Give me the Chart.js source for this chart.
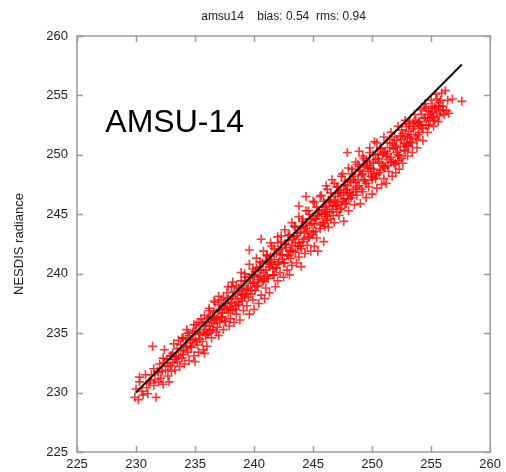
<!DOCTYPE html>
<html>
<head>
<meta charset="utf-8">
<script src="https://cdn.jsdelivr.net/npm/chart.js@4"></script>
<style>
  body { margin: 0; background: #fff; }
  canvas { display: block; }
</style>
</head>
<body>
<canvas id="grafica" width="506" height="472"></canvas>
<script>
// amsu14 vs NESDIS radiance
const titleText = 'amsu14    bias: 0.54  rms: 0.94';
const panelLabel = 'AMSU-14';
const yAxisLabel = 'NESDIS radiance';
const tickValues = [225, 230, 235, 240, 245, 250, 255, 260];
const fitX = [230.0, 257.6];
const fitY = [230.0, 257.6];
// outer part of the cloud
const scatterPoints = [
  [229.9,229.6],[230.0,230.3],[230.2,229.4],[230.3,230.9],[230.3,231.3],[230.5,230.1],[230.6,229.8],[230.8,231.5],[230.9,230.4],[231.0,229.9],
  [231.2,231.0],[231.4,233.9],[231.5,230.6],[231.7,229.6],[231.8,231.8],[231.9,230.9],[232.0,232.4],[232.1,231.2],[232.3,230.7],[232.4,233.6],
  [232.5,231.9],[232.6,232.8],[232.7,231.4],[232.8,230.9],[232.9,232.3],[233.0,233.1],[233.0,231.8],
  [233.1,232.5],[233.2,234.1],[233.3,231.9],[233.4,233.0],[233.5,232.6],[233.6,234.4],[233.7,232.2],[233.8,233.5],[233.9,232.9],[234.0,234.6],
  [234.0,233.2],[234.1,232.4],[234.2,233.9],[234.3,235.3],[234.4,233.4],[234.5,232.7],[234.6,234.2],[234.7,233.8],[234.8,235.1],[234.9,233.1],
  [235.0,234.5],[235.0,232.6],[235.1,235.7],[235.2,234.0],[235.3,233.4],[235.4,234.9],[235.5,236.2],[235.6,234.3],[235.7,233.6],[235.8,233.3],
  [235.8,235.3],[235.9,234.8],[236.0,236.0],[236.0,233.9],[236.1,235.0],[236.2,236.9],
  [236.3,235.2],[236.4,234.6],[236.5,236.4],[236.6,235.8],[236.7,237.6],[236.8,235.1],[236.9,236.3],[237.0,234.8],[237.0,236.9],[237.1,235.9],
  [237.2,237.8],[237.3,236.4],[237.4,235.3],[237.5,237.1],[237.6,236.0],[237.7,238.4],[237.8,236.7],[237.9,235.6],[238.0,237.5],[238.0,236.2],
  [238.1,238.9],[238.2,237.0],[238.3,235.9],[238.4,237.9],[238.5,236.6],[238.6,238.3],[238.7,237.4],[238.8,236.1],[238.9,239.4],[239.0,237.7],
  [239.0,238.6],[239.1,236.9],[239.2,238.1],[239.3,239.7],[239.4,237.3],[239.5,238.8],[239.6,242.0],[239.6,236.6],[239.7,238.3],[239.8,239.9],
  [239.9,237.8],[240.0,239.2],[240.0,237.0],[240.1,238.6],[240.2,240.5],[240.3,239.0],[240.4,237.5],[240.5,239.8],[240.6,242.9],[240.6,238.2],
  [240.7,240.9],[240.8,239.4],[240.9,237.9],[241.0,240.3],[241.0,238.8],
  [241.1,241.6],[241.2,239.6],[241.3,238.4],[241.4,240.8],[241.5,242.3],[241.6,239.9],[241.7,241.2],[241.8,238.9],[241.9,240.5],[242.0,242.6],
  [242.0,239.4],[242.1,241.0],[242.2,240.1],[242.3,243.2],[242.4,241.6],[242.5,239.7],[242.6,240.9],[242.7,242.2],[242.8,240.3],[242.9,241.5],
  [243.0,239.9],[243.0,243.3],[243.1,242.0],[243.2,240.7],[243.3,241.9],[243.4,244.0],[243.5,242.6],[243.6,240.9],[243.7,242.3],[243.8,241.4],
  [243.8,245.7],[243.9,243.5],[244.0,242.1],[244.0,240.6],[244.1,244.6],[244.2,242.9],[244.3,241.7],[244.4,243.8],[244.4,246.5],[244.5,242.4],
  [244.6,245.3],[244.7,243.1],[244.8,241.9],[244.9,244.2],[245.0,243.5],[245.1,242.3],[245.1,246.0],[245.2,244.6],[245.3,243.0],[245.4,241.9],
  [245.5,245.1],[245.6,243.8],[245.7,246.6],[245.8,244.3],[245.9,242.7],[246.0,245.6],[246.0,244.0],
  [246.1,244.8],[246.1,247.4],[246.2,245.2],[246.3,243.9],[246.4,246.0],[246.5,244.6],[246.6,247.9],[246.7,245.7],[246.8,244.3],[246.9,246.5],
  [247.0,245.2],[247.0,247.3],[247.1,246.0],[247.2,244.9],[247.3,246.8],[247.4,245.5],[247.5,248.4],[247.6,244.4],[247.6,246.3],[247.7,247.5],
  [247.8,245.9],[247.9,250.2],[247.9,246.8],[248.0,245.3],[248.1,247.9],[248.2,246.4],[248.3,248.8],[248.4,247.1],[248.5,245.8],[248.6,247.7],
  [248.7,246.6],[248.8,249.2],[248.9,250.3],[248.9,247.4],[249.0,245.9],[249.1,248.3],[249.2,246.9],[249.3,249.7],[249.4,247.8],[249.5,246.4],
  [249.6,248.9],[249.7,247.3],[249.8,250.2],[249.9,248.2],[250.0,247.9],[250.0,246.7],[250.1,249.3],[250.2,251.1],[250.3,248.0],[250.4,247.2],
  [250.5,249.7],[250.6,248.5],[250.7,250.6],[250.8,247.5],[250.9,249.1],[251.0,248.0],[251.0,250.2],
  [251.1,249.0],[251.2,247.6],[251.3,250.1],[251.4,248.6],[251.5,251.3],[251.6,249.4],[251.7,248.2],[251.8,250.5],[251.9,249.2],[252.0,248.5],
  [252.0,249.3],[252.1,251.2],[252.2,250.0],[252.3,248.8],[252.4,251.6],[252.5,249.7],[252.6,249.3],[252.7,251.0],[252.8,250.3],[252.9,252.4],
  [253.0,249.9],[253.0,251.5],[253.1,250.7],[253.2,252.8],[253.3,251.1],[253.4,250.2],[253.5,252.2],[253.6,253.4],[253.7,251.5],[253.8,250.6],
  [253.9,252.7],[254.0,251.9],[254.1,253.8],[254.2,252.3],[254.3,251.2],[254.4,253.1],[254.5,254.3],[254.6,252.5],[254.7,251.9],[254.8,253.7],
  [254.9,252.9],[255.0,254.6],[255.1,253.2],[255.2,252.4],[255.3,254.0],[255.4,255.1],[255.5,253.5],[255.6,252.8],[255.7,254.4],[255.8,253.7],
  [255.9,255.2],[256.0,254.1],[256.1,253.4],[256.2,255.4],[256.3,253.7],[256.4,254.6],[256.5,253.5],[256.8,254.7],[257.6,254.5]
];
// dense core of the cloud, close to the line
const densePoints = [
  [231.1,230.8],[231.3,231.5],[231.6,231.1],[231.9,231.7],[232.2,231.8],[232.4,232.5],[232.7,232.2],[232.9,233.1],[233.1,233.3],[233.3,232.8],
  [233.5,233.7],[233.6,233.1],[233.8,234.0],[234.0,233.6],[234.2,234.5],[234.3,233.8],[234.5,234.8],[234.6,233.9],[234.8,234.4],[235.0,235.2],
  [235.1,234.3],[235.3,235.0],[235.4,234.5],[235.6,235.9],[235.7,235.1],[235.9,235.6],[236.0,234.9],[236.2,235.6],[236.3,236.4],[236.5,235.3],
  [236.6,236.8],[236.8,236.2],[236.9,235.5],[237.1,237.0],[237.2,236.3],[237.4,237.3],[237.5,236.0],[237.7,237.0],[237.8,237.9],[238.0,236.9],
  [238.1,237.6],[238.3,238.5],[238.4,237.0],[238.6,237.6],[238.7,238.8],[238.9,237.9],[239.0,238.2],[239.2,239.4],[239.3,238.3],[239.5,238.0],
  [239.6,239.7],[239.8,238.6],[239.9,239.3],[240.1,240.2],[240.2,238.9],[240.4,239.5],[240.5,240.6],[240.7,239.3],[240.8,240.1],[241.0,241.1],
  [241.1,239.8],[241.3,240.6],[241.4,241.5],[241.6,240.4],[241.7,239.9],[241.9,241.7],[242.0,240.8],[242.2,241.6],[242.3,242.1],[242.5,240.9],
  [242.6,242.5],[242.8,241.6],[242.9,242.8],[243.1,241.3],[243.2,242.4],[243.4,243.1],[243.5,241.8],[243.7,243.4],[243.8,242.6],[244.0,243.9],
  [244.1,242.7],[244.3,243.4],[244.4,244.3],[244.6,243.0],[244.7,244.1],[244.9,243.3],[245.0,244.8],[245.2,243.6],[245.3,244.6],[245.5,245.3],
  [245.6,244.1],[245.8,245.4],[245.9,244.3],[246.1,245.7],[246.2,244.5],[246.4,245.2],[246.5,246.1],[246.7,244.9],[246.8,246.2],[247.0,245.8],
  [247.1,246.8],[247.3,245.4],[247.4,246.6],[247.6,247.1],[247.7,245.9],[247.9,247.4],[248.0,246.3],[248.2,247.7],[248.3,246.6],[248.5,248.2],
  [248.6,246.9],[248.8,247.9],[248.9,248.6],[249.1,247.1],[249.2,248.4],[249.4,249.0],[249.5,247.6],[249.7,248.6],[249.8,249.4],[250.0,248.1],
  [250.1,248.8],[250.3,249.6],[250.4,248.3],[250.6,249.4],[250.7,248.7],[250.9,250.0],[251.0,248.9],[251.2,249.9],[251.3,249.1],[251.5,250.6],
  [251.6,249.8],[251.8,249.4],[251.9,250.8],[252.1,250.2],[252.2,249.5],[252.4,250.7],[252.5,251.3],[252.7,250.4],[252.8,251.6],[253.0,250.8],
  [253.1,252.0],[253.3,251.7],[253.4,251.0],[253.6,252.4],[253.7,252.9],[253.9,251.7],[254.0,252.8],[254.2,253.4],[254.3,252.2],[254.5,253.1],
  [254.6,253.9],[254.8,252.5],[254.9,253.4],[255.1,254.1],[255.2,253.1],[255.4,253.9],[255.5,254.7],[255.7,253.3],[255.8,254.6],[256.0,253.8],
  [236.1,236.3],[236.4,235.9],[236.7,236.1],[237.0,237.4],[237.3,236.7],[237.6,237.5],[237.9,237.2],[238.2,238.1],[238.5,237.3],[238.8,238.5],
  [239.1,239.0],[239.4,238.7],[239.7,239.2],[240.0,239.9],[240.3,239.7],[240.6,240.3],[240.9,239.6],[241.2,240.9],[241.5,241.0],[241.8,240.5],
  [242.1,242.0],[242.4,241.2],[242.7,242.5],[243.0,241.9],[243.3,242.9],[243.6,243.2],[243.9,242.3],[244.2,244.0],[244.5,243.6],[244.8,244.6],
  [245.1,244.2],[245.4,244.9],[245.7,245.0],[246.0,245.0],[246.3,246.2],[246.6,245.4],[246.9,245.7],[247.2,247.0],[247.5,246.1],[247.8,247.0],
  [248.1,246.8],[248.4,247.9],[248.7,247.3],[249.0,248.7],[249.3,247.9],[249.6,249.1],[249.9,248.9],[250.2,248.4],[250.5,250.1],[250.8,249.3],
  [251.1,250.3],[251.4,249.6],[251.7,251.0],[252.0,250.6],[252.3,249.9],[252.6,251.8],[252.9,250.9],[253.2,251.4],[253.5,252.7],[253.8,251.3],
  [254.1,252.5],[254.4,254.0],[254.7,253.1],[255.0,253.6],[255.3,252.9],[255.6,254.1]
];
// points sitting just above the line
const upperPoints = [
  [231.5,232.0],[232.3,232.9],[233.9,234.6],[234.4,235.0],[234.9,235.7],[235.3,235.9],[235.8,236.5],
  [236.2,237.1],[236.6,237.7],[237.0,238.1],[237.4,238.0],[237.8,238.9],[238.2,239.3],[238.5,239.0],[238.9,240.1],[239.2,240.0],[239.6,240.8],
  [239.9,240.4],[240.2,241.3],[240.5,241.0],[240.8,241.9],[241.1,241.5],[241.4,242.6],[241.7,242.1],[242.0,243.1],[242.3,242.7],[242.6,243.7],
  [242.9,243.2],[243.2,244.3],[243.5,243.9],[243.8,244.8],[244.1,244.4],[244.4,245.3],[244.7,245.0],[245.0,246.1],[245.3,245.6],[245.6,246.5],
  [245.9,246.1],[246.2,247.1],[246.5,246.8],[246.8,247.6],[247.1,247.3],[247.4,248.2],[247.7,247.8],[248.0,248.9],[248.3,248.4],[248.6,249.4],
  [248.9,249.0],[249.2,249.9],[249.5,249.5],[249.8,250.6],[250.1,250.0],[250.4,251.0],[250.7,250.5],[251.0,251.5],[251.3,251.0],[251.6,251.9],
  [251.9,251.5],[252.2,252.4],[252.5,252.1],[252.8,252.9],[253.1,252.6]
];

const fontFamily = '"Liberation Sans", Arial, sans-serif';

// box with inward ticks on all sides, title and panel label
const framePlugin = {
  id: 'frame',
  afterDraw(chart) {
    const ctx = chart.ctx;
    const a = chart.chartArea;
    const sx = chart.scales.x, sy = chart.scales.y;
    ctx.save();
    ctx.strokeStyle = '#9a9a9a';
    ctx.lineWidth = 1.5;
    ctx.strokeRect(a.left, a.top, a.right - a.left, a.bottom - a.top);
    ctx.beginPath();
    for (const v of tickValues) {
      const px = Math.round(sx.getPixelForValue(v)) + 0.5;
      ctx.moveTo(px, a.bottom); ctx.lineTo(px, a.bottom - 6);
      ctx.moveTo(px, a.top); ctx.lineTo(px, a.top + 6);
      const py = Math.round(sy.getPixelForValue(v)) + 0.5;
      ctx.moveTo(a.left, py); ctx.lineTo(a.left + 6, py);
      ctx.moveTo(a.right, py); ctx.lineTo(a.right - 6, py);
    }
    ctx.stroke();

    ctx.fillStyle = '#222';
    ctx.font = '12px ' + fontFamily;
    ctx.textAlign = 'center';
    ctx.textBaseline = 'alphabetic';
    ctx.fillText(titleText, (a.left + a.right) / 2, 20);

    ctx.fillStyle = '#000';
    ctx.font = '32px ' + fontFamily;
    ctx.textAlign = 'left';
    ctx.fillText(panelLabel, sx.getPixelForValue(227.4), sy.getPixelForValue(251.9));
    ctx.restore();
  }
};

const axisCommon = {
  type: 'linear',
  min: 225,
  max: 260,
  grid: { display: false, drawTicks: false },
  border: { display: false },
  ticks: {
    stepSize: 5,
    color: '#222',
    font: { family: fontFamily, size: 13 }
  }
};

new Chart(document.getElementById('grafica').getContext('2d'), {
  type: 'scatter',
  data: {
    datasets: [
      {
        data: scatterPoints.concat(densePoints, upperPoints).map(p => ({ x: p[0], y: p[1] })),
        pointStyle: 'cross',
        pointRadius: 4.5,
        borderWidth: 1.6,
        borderColor: 'rgba(255,0,0,0.8)',
        backgroundColor: 'rgba(255,0,0,0.8)',
        order: 2
      },
      {
        type: 'line',
        data: fitX.map((x, i) => ({ x: x, y: fitY[i] })),
        borderColor: '#111',
        borderWidth: 2,
        pointRadius: 0,
        fill: false,
        order: 1
      }
    ]
  },
  options: {
    responsive: false,
    animation: false,
    events: [],
    layout: { padding: { top: 36, right: 14, left: 0, bottom: 0 } },
    plugins: { legend: { display: false }, tooltip: { enabled: false }, title: { display: false } },
    scales: {
      x: Object.assign({}, axisCommon, {
        position: 'bottom',
        ticks: Object.assign({}, axisCommon.ticks, { padding: 5, maxRotation: 0 }),
        afterFit(scale) { scale.height = 20; }
      }),
      y: Object.assign({}, axisCommon, {
        position: 'left',
        ticks: Object.assign({}, axisCommon.ticks, { padding: 9 }),
        title: {
          display: true,
          text: yAxisLabel,
          color: '#222',
          font: { family: fontFamily, size: 13 },
          padding: { top: 12, bottom: 0 }
        },
        afterFit(scale) { scale.width = 77; }
      })
    }
  },
  plugins: [framePlugin]
});
</script>
</body>
</html>
